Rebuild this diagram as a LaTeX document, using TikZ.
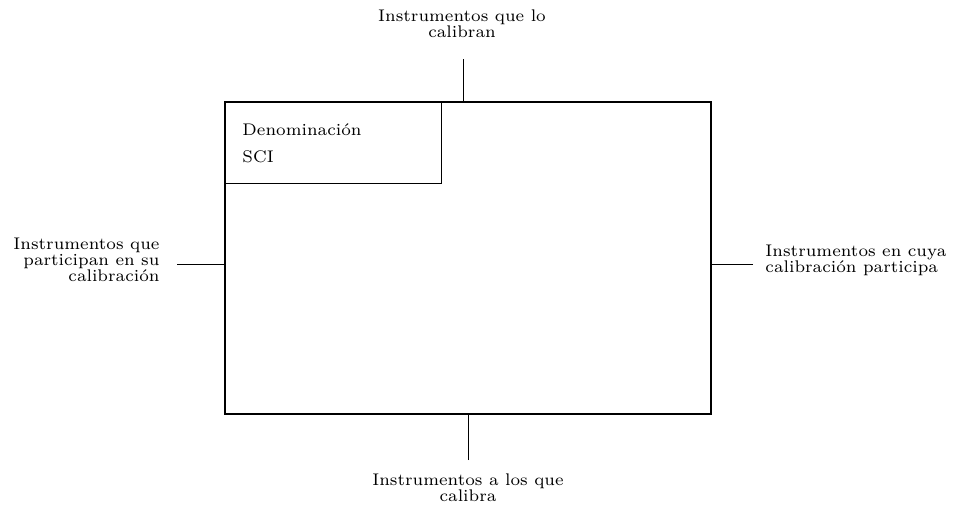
\documentclass[tikz,border=0pt]{standalone}
\usetikzlibrary{fit}
\begin{document}
\begin{tikzpicture}[x=0.415pt,y=-0.415pt,
  lbl/.style={inner sep=0pt,font=\fontsize{7}{6.64}\selectfont},
  thick box/.style={draw,line width=0.85pt,inner sep=0pt},
  thin box/.style={draw,line width=0.42pt,inner sep=0pt},
  conn/.style={line width=0.42pt}]
\useasboundingbox (0,0) rectangle (953,507);
% main box
\coordinate (tl) at (225,102);
\coordinate (br) at (711,414);
\node[thick box,fit=(tl)(br)] (box) {};
% inner box
\coordinate (itl) at (225,102);
\coordinate (ibr) at (441,183);
\node[thin box,fit=(itl)(ibr)] (inner) {};
\node[inner sep=0pt,anchor=north west,align=left,font=\fontsize{7}{11.2}\selectfont] (den) at (242,123) {Denominación\\SCI};
% connector ends
\coordinate (topend) at (463,59);
\coordinate (botend) at (468,460);
\coordinate (leftend) at (177,264);
\coordinate (rightend) at (753,264);
\draw[conn] (topend) -- (topend |- box.north);
\draw[conn] (botend) -- (botend |- box.south);
\draw[conn] (leftend) -- (leftend -| box.west);
\draw[conn] (rightend) -- (rightend -| box.east);
% labels
\node[lbl,anchor=north,align=center] (ltop) at (462,9) {Instrumentos que lo\\calibran};
\node[lbl,anchor=north east,align=right] (lleft) at (160,237) {Instrumentos que\\participan en su\\calibración};
\node[lbl,anchor=north west,align=left] (lright) at (765,244) {Instrumentos en cuya\\calibración participa};
\node[lbl,anchor=north,align=center] (lbot) at (468,473) {Instrumentos a los que\\calibra};
\end{tikzpicture}
\end{document}
